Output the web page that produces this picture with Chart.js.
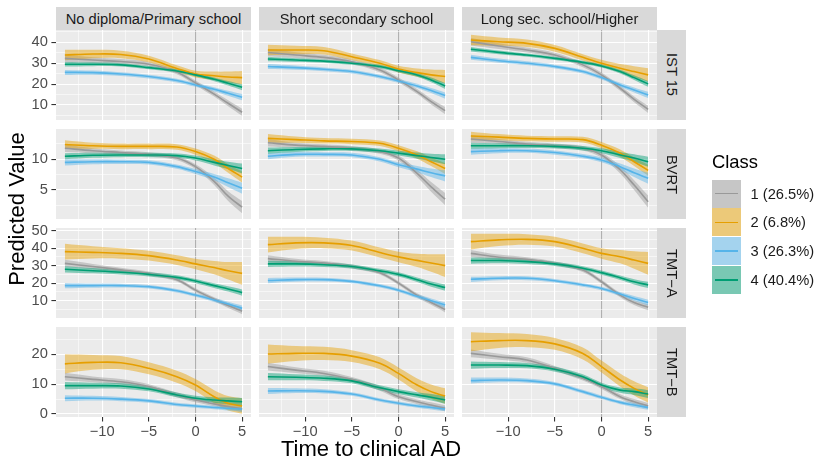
<!DOCTYPE html>
<html>
<head>
<meta charset="utf-8">
<script src="https://cdn.jsdelivr.net/npm/chart.js@4.4.1/dist/chart.umd.min.js"></script>
<style>
  body { margin: 0; background: #fff; }
  #wrap { position: relative; width: 815px; height: 457px; overflow: hidden; font-family: "Liberation Sans", Arial, sans-serif; }
  canvas { position: absolute; }
  .strip { position: absolute; background: #d9d9d9; color: #1a1a1a; font-size: 14.7px; display: flex; align-items: center; justify-content: center; white-space: nowrap; }
  .strip.side span { writing-mode: vertical-rl; }
  .title { position: absolute; color: #000; white-space: nowrap; }
  .key { position: absolute; width: 28.5px; height: 28px; background: #f2f2f2; }
  .key i { position: absolute; left: 3px; right: 3px; top: 13.3px; height: 1.5px; }
  .klab { position: absolute; font-size: 14.7px; line-height: 28px; color: #1a1a1a; white-space: nowrap; }
</style>
</head>
<body>
<div id="wrap"></div>
<script>
// time to clinical AD (x positions of the fitted values)
const TIME = [-14, -11, -8, -5, -2, 0, 2, 3.5, 5];

const CLASS_LABELS = ['1 (26.5%)', '2 (6.8%)', '3 (26.3%)', '4 (40.4%)'];
const CLASS_COLORS = ['#999999', '#E69F00', '#56B4E9', '#009E73'];
const EDUCATION = ['No diploma/Primary school', 'Short secondary school', 'Long sec. school/Higher'];
const MEASURES = ['IST 15', 'BVRT', 'TMT\u2212A', 'TMT\u2212B'];

const X_MAJOR = [-10, -5, 0, 5];
const X_MINOR = [-12.5, -7.5, -2.5, 2.5];
const Y_MAJOR = [[10, 20, 30, 40], [5, 10], [10, 20, 30, 40, 50], [0, 10, 20]];
const Y_MINOR = [[5, 15, 25, 35, 45], [2.5, 7.5, 12.5], [5, 15, 25, 35, 45], [5, 15, 25]];

// fitted curves, one row per class (1..4)
const IST15_PRIMARY = [
  [32.3, 31.5, 30.8, 29.5, 25.8, 20.6, 15.2, 10.8, 6.5],
  [33.9, 34.4, 34.2, 32.0, 27.5, 24.8, 24.0, 23.4, 23.1],
  [25.6, 25.5, 24.8, 23.6, 21.7, 19.6, 17.5, 15.6, 13.7],
  [29.5, 29.5, 29.2, 27.9, 26.3, 24.4, 22.3, 20.4, 18.5]
];
const IST15_SHORT = [
  [35.1, 33.9, 32.8, 30.7, 26.8, 22.0, 16.4, 11.6, 7.3],
  [36.3, 36.3, 36.0, 33.1, 30.0, 27.2, 25.5, 24.4, 23.6],
  [28.4, 27.9, 27.1, 26.0, 23.6, 21.5, 19.1, 16.9, 14.5],
  [32.0, 31.5, 31.0, 30.0, 28.4, 26.4, 24.4, 22.0, 19.1]
];
const IST15_LONG = [
  [40.3, 38.2, 36.3, 33.9, 29.2, 24.4, 18.0, 12.7, 7.9],
  [41.1, 40.3, 39.5, 37.1, 32.8, 30.0, 27.6, 26.0, 24.4],
  [32.8, 31.2, 30.0, 28.4, 26.0, 23.1, 19.6, 17.2, 14.8],
  [36.7, 35.2, 33.9, 32.3, 30.4, 28.7, 26.0, 23.1, 20.1]
];
const BVRT_PRIMARY = [
  [11.8, 11.4, 11.1, 10.8, 10.2, 8.8, 6.4, 4.0, 2.2],
  [12.4, 12.2, 12.1, 12.1, 12.0, 11.25, 10.0, 8.5, 7.1],
  [9.5, 9.6, 9.6, 9.5, 8.8, 8.0, 7.1, 6.2, 5.3],
  [10.5, 10.65, 10.7, 10.7, 10.6, 10.2, 9.5, 9.0, 8.5]
];
const BVRT_SHORT = [
  [12.7, 12.3, 12.1, 11.8, 11.25, 10.2, 7.7, 5.5, 3.5],
  [13.4, 13.2, 13.0, 12.9, 12.6, 11.8, 10.7, 9.6, 8.5],
  [10.5, 10.8, 10.8, 10.7, 10.0, 9.1, 8.4, 7.8, 7.3],
  [11.4, 11.6, 11.7, 11.7, 11.4, 11.0, 10.6, 10.3, 10.0]
];
const BVRT_LONG = [
  [13.3, 12.9, 12.5, 12.2, 11.8, 10.7, 8.3, 5.8, 3.1],
  [13.8, 13.6, 13.4, 13.3, 13.2, 12.3, 11.0, 9.6, 8.2],
  [11.25, 11.4, 11.4, 11.1, 10.5, 9.9, 8.8, 7.8, 6.9],
  [12.2, 12.2, 12.2, 12.1, 11.8, 11.4, 10.7, 10.2, 9.6]
];
const TMTA_PRIMARY = [
  [31.3, 29.5, 27.6, 25.5, 22.0, 16.0, 10.8, 7.2, 4.0],
  [38.0, 37.6, 37.0, 35.7, 33.2, 31.0, 28.9, 27.1, 25.6],
  [18.6, 18.6, 18.6, 18.0, 15.7, 13.2, 10.4, 8.1, 5.6],
  [27.9, 27.1, 26.2, 25.0, 23.3, 21.2, 18.6, 16.7, 14.6]
];
const TMTA_SHORT = [
  [34.0, 32.5, 31.5, 29.5, 26.0, 20.0, 13.0, 9.0, 5.0],
  [42.0, 43.0, 43.0, 41.5, 37.5, 35.0, 33.0, 31.5, 30.0],
  [21.5, 22.0, 22.0, 21.0, 18.5, 16.0, 12.5, 10.0, 7.5],
  [31.0, 31.0, 30.5, 29.5, 27.0, 25.0, 22.0, 19.5, 17.5]
];
const TMTA_LONG = [
  [37.0, 34.8, 33.6, 31.3, 27.5, 20.8, 13.2, 8.9, 6.2],
  [43.7, 44.7, 45.0, 43.7, 39.9, 37.0, 35.1, 33.2, 31.3],
  [22.2, 22.8, 22.8, 21.4, 19.0, 17.0, 13.8, 11.3, 8.9],
  [32.9, 32.9, 32.3, 31.0, 28.5, 26.0, 23.1, 20.8, 19.0]
];
const TMTB_PRIMARY = [
  [12.5, 11.6, 10.8, 9.2, 6.4, 4.7, 3.4, 2.5, 1.7],
  [16.8, 17.3, 17.2, 15.3, 12.5, 9.7, 5.8, 3.6, 2.7],
  [5.3, 5.3, 5.0, 4.4, 3.2, 2.7, 2.2, 1.9, 1.6],
  [9.5, 9.5, 9.4, 8.4, 6.4, 5.3, 4.7, 4.4, 4.1]
];
const TMTB_SHORT = [
  [15.9, 14.7, 13.6, 11.6, 8.6, 5.8, 4.1, 3.0, 1.9],
  [20.1, 20.3, 20.3, 19.4, 17.0, 13.6, 9.7, 7.5, 6.0],
  [7.7, 7.8, 7.6, 6.7, 4.7, 3.6, 2.7, 2.2, 1.7],
  [12.5, 12.3, 12.0, 11.1, 8.8, 7.5, 6.4, 5.6, 4.7]
];
const TMTB_LONG = [
  [20.3, 19.2, 18.1, 15.3, 12.0, 9.2, 5.8, 4.1, 2.7],
  [24.2, 24.6, 24.6, 23.5, 20.3, 15.9, 11.4, 8.6, 6.4],
  [11.2, 11.4, 11.2, 10.1, 7.5, 5.6, 3.9, 3.0, 2.2],
  [16.4, 16.4, 16.2, 15.0, 12.5, 9.7, 8.0, 7.5, 6.7]
];

// half-width of the confidence ribbons, one row per class
const IST15_BAND = [
  [1.8, 1.4, 1.2, 1.1, 1.1, 1.1, 1.2, 1.4, 1.7],
  [2.5, 2.0, 1.8, 1.6, 1.5, 1.6, 2.0, 2.6, 3.2],
  [1.2, 1.0, 0.9, 0.9, 0.9, 0.9, 1.0, 1.2, 1.5],
  [1.1, 0.9, 0.8, 0.8, 0.8, 0.8, 0.9, 1.1, 1.4]
];
const BVRT_BAND = [
  [0.6, 0.4, 0.35, 0.35, 0.35, 0.4, 0.6, 0.8, 1.0],
  [0.7, 0.5, 0.45, 0.45, 0.45, 0.5, 0.6, 0.7, 0.9],
  [0.5, 0.4, 0.35, 0.35, 0.35, 0.4, 0.5, 0.7, 0.9],
  [0.5, 0.4, 0.35, 0.35, 0.35, 0.4, 0.5, 0.6, 0.8]
];
const TMTA_BAND = [
  [2.0, 1.5, 1.2, 1.1, 1.1, 1.1, 1.2, 1.4, 1.7],
  [4.5, 3.5, 3.0, 2.8, 2.8, 3.0, 3.8, 5.0, 6.5],
  [1.5, 1.2, 1.1, 1.0, 1.0, 1.0, 1.1, 1.3, 1.6],
  [1.8, 1.5, 1.3, 1.2, 1.2, 1.2, 1.3, 1.5, 1.8]
];
const TMTB_BAND = [
  [1.3, 1.0, 0.9, 0.8, 0.8, 0.8, 0.8, 0.9, 1.0],
  [3.2, 2.5, 2.2, 2.0, 2.0, 2.0, 2.2, 2.4, 2.6],
  [1.0, 0.8, 0.7, 0.6, 0.6, 0.6, 0.6, 0.7, 0.8],
  [1.2, 1.0, 0.9, 0.8, 0.8, 0.8, 0.9, 1.1, 1.3]
];

const FITS = [
  [IST15_PRIMARY, IST15_SHORT, IST15_LONG],
  [BVRT_PRIMARY, BVRT_SHORT, BVRT_LONG],
  [TMTA_PRIMARY, TMTA_SHORT, TMTA_LONG],
  [TMTB_PRIMARY, TMTB_SHORT, TMTB_LONG]
];
const BANDS = [IST15_BAND, BVRT_BAND, TMTA_BAND, TMTB_BAND];

// layout
const X_LIMITS = [-14.95, 5.95];
const Y_LIMITS = [[2.8, 45.9], [0.28, 14.93], [0.1, 51.5], [-1.0, 29.15]];
const COL_LEFT = [56, 259, 462];
const ROW_TOP = [30, 129, 228, 327];
const PW = 195, PH = 90, M = 10;
const FONT = '"Liberation Sans", Arial, sans-serif';

const wrap = document.getElementById('wrap');

function fade(hex, a) {
  const n = parseInt(hex.slice(1), 16);
  return 'rgba(' + (n >> 16) + ',' + ((n >> 8) & 255) + ',' + (n & 255) + ',' + a + ')';
}
function fmt(v) { return v < 0 ? '\u2212' + Math.abs(v) : String(v); }

const panelBg = {
  id: 'panelBg',
  beforeDraw(chart) {
    const a = chart.chartArea, ctx = chart.ctx;
    ctx.save();
    ctx.fillStyle = '#EBEBEB';
    ctx.fillRect(a.left, a.top, a.width, a.height);
    ctx.restore();
  }
};

function datasetsFor(fit, band) {
  const sets = [];
  fit.forEach((vals, k) => {
    sets.push({ data: vals.map((v, i) => ({ x: TIME[i], y: v - band[k][i] })), borderWidth: 0, borderColor: 'rgba(0,0,0,0)', fill: false, order: 20 - k });
    sets.push({ data: vals.map((v, i) => ({ x: TIME[i], y: v + band[k][i] })), borderWidth: 0, borderColor: 'rgba(0,0,0,0)', fill: '-1', backgroundColor: fade(CLASS_COLORS[k], 0.45), order: 20 - k });
  });
  fit.forEach((vals, k) => {
    sets.push({ data: vals.map((v, i) => ({ x: TIME[i], y: v })), borderColor: CLASS_COLORS[k], borderWidth: 1.6, fill: false, order: 10 - k });
  });
  return sets;
}

function zeroPad(s) { s.paddingTop = 0; s.paddingBottom = 0; s.paddingLeft = 0; s.paddingRight = 0; }

for (let r = 0; r < 4; r++) {
  for (let c = 0; c < 3; c++) {
    const L = c === 0 ? 50 : 0;
    const B = r === 3 ? 28 : 0;
    const cv = document.createElement('canvas');
    cv.width = PW + L + 2 * M;
    cv.height = PH + B + 2 * M;
    cv.style.left = (COL_LEFT[c] - L - M) + 'px';
    cv.style.top = (ROW_TOP[r] - M) + 'px';
    wrap.appendChild(cv);

    const yMajor = Y_MAJOR[r];
    new Chart(cv, {
      type: 'line',
      data: { datasets: datasetsFor(FITS[r][c], BANDS[r]) },
      plugins: [panelBg],
      options: {
        responsive: false,
        animation: false,
        layout: { padding: M },
        elements: { point: { radius: 0 }, line: { tension: 0.35 } },
        plugins: { legend: { display: false }, tooltip: { enabled: false } },
        scales: {
          x: {
            type: 'linear', min: X_LIMITS[0], max: X_LIMITS[1],
            afterBuildTicks: s => { s.ticks = X_MINOR.concat(X_MAJOR).sort((a, b) => a - b).map(v => ({ value: v })); },
            afterFit: s => { s.height = B; zeroPad(s); },
            border: { display: false },
            grid: {
              color: ctx => ctx.tick && ctx.tick.value === 0 ? '#b0b0b0' : '#ffffff',
              lineWidth: ctx => ctx.tick && X_MAJOR.includes(ctx.tick.value) ? 1.1 : 0.55,
              drawTicks: r === 3, tickLength: 4.6, tickWidth: 1.1,
              tickColor: ctx => ctx.tick && X_MAJOR.includes(ctx.tick.value) ? '#333333' : 'rgba(0,0,0,0)'
            },
            ticks: {
              display: r === 3, autoSkip: false, maxRotation: 0, minRotation: 0, padding: 1.5,
              color: '#4d4d4d', font: { family: FONT, size: 14.7 },
              callback: v => X_MAJOR.includes(v) ? fmt(v) : ''
            }
          },
          y: {
            type: 'linear', min: Y_LIMITS[r][0], max: Y_LIMITS[r][1],
            afterBuildTicks: s => { s.ticks = Y_MINOR[r].concat(yMajor).sort((a, b) => a - b).map(v => ({ value: v })); },
            afterFit: s => { s.width = L; zeroPad(s); },
            border: { display: false },
            grid: {
              color: '#ffffff',
              lineWidth: ctx => ctx.tick && yMajor.includes(ctx.tick.value) ? 1.1 : 0.55,
              drawTicks: c === 0, tickLength: 4.6, tickWidth: 1.1,
              tickColor: ctx => ctx.tick && yMajor.includes(ctx.tick.value) ? '#333333' : 'rgba(0,0,0,0)'
            },
            ticks: {
              display: c === 0, autoSkip: false, padding: 3.5,
              color: '#4d4d4d', font: { family: FONT, size: 14.7 },
              callback: v => yMajor.includes(v) ? fmt(v) : ''
            }
          }
        }
      }
    });
  }
}

// facet strips
EDUCATION.forEach((t, c) => {
  const d = document.createElement('div');
  d.className = 'strip';
  Object.assign(d.style, { left: COL_LEFT[c] + 'px', top: '7px', width: PW + 'px', height: '23px' });
  d.textContent = t;
  wrap.appendChild(d);
});
MEASURES.forEach((t, r) => {
  const d = document.createElement('div');
  d.className = 'strip side';
  Object.assign(d.style, { left: '657px', top: ROW_TOP[r] + 'px', width: '29px', height: PH + 'px' });
  const s = document.createElement('span');
  s.textContent = t;
  d.appendChild(s);
  wrap.appendChild(d);
});

// axis titles
const xt = document.createElement('div');
xt.className = 'title';
Object.assign(xt.style, { left: (371 - 150) + 'px', width: '300px', top: '438px', textAlign: 'center', fontSize: '22px', lineHeight: '22px' });
xt.textContent = 'Time to clinical AD';
wrap.appendChild(xt);

const yt = document.createElement('div');
yt.className = 'title';
Object.assign(yt.style, { left: (17 - 150) + 'px', width: '300px', top: (209 - 11) + 'px', textAlign: 'center', fontSize: '22px', lineHeight: '22px', transform: 'rotate(-90deg)' });
yt.textContent = 'Predicted Value';
wrap.appendChild(yt);

// legend
const lt = document.createElement('div');
lt.className = 'title';
Object.assign(lt.style, { left: '712px', top: '152.6px', fontSize: '18.4px', lineHeight: '18.4px' });
lt.textContent = 'Class';
wrap.appendChild(lt);

CLASS_LABELS.forEach((lab, k) => {
  const top = 179.5 + k * 28.8;
  const key = document.createElement('div');
  key.className = 'key';
  Object.assign(key.style, { left: '712.3px', top: top + 'px' });
  const fill = document.createElement('div');
  Object.assign(fill.style, { position: 'absolute', inset: '0', background: fade(CLASS_COLORS[k], 0.5) });
  key.appendChild(fill);
  const ln = document.createElement('i');
  ln.style.background = CLASS_COLORS[k];
  key.appendChild(ln);
  wrap.appendChild(key);
  const t = document.createElement('div');
  t.className = 'klab';
  Object.assign(t.style, { left: '750.5px', top: top + 'px' });
  t.textContent = lab;
  wrap.appendChild(t);
});
</script>
</body>
</html>
